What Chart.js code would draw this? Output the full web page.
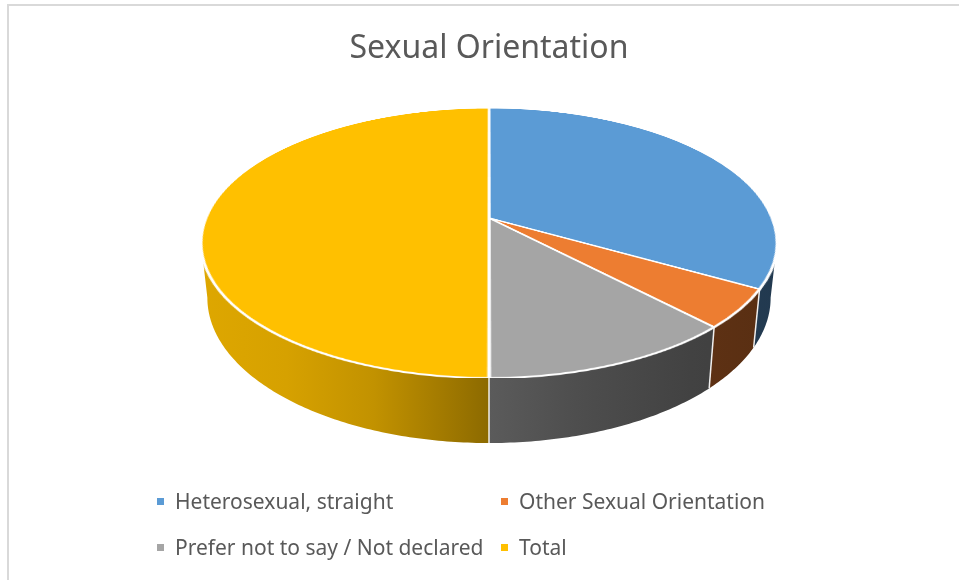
<!DOCTYPE html>
<html>
<head>
<meta charset="utf-8">
<title>Sexual Orientation</title>
<script src="https://cdn.jsdelivr.net/npm/chart.js@4.4.1/dist/chart.umd.min.js"></script>
<style>
  html, body { margin: 0; padding: 0; background: #fff; }
  #wrap { position: relative; width: 959px; height: 580px; overflow: hidden; }
  #frame { position: absolute; left: 7px; top: 4px; right: -10px; bottom: -10px;
           border-left: 2px solid #d9d9d9; border-top: 2px solid #d9d9d9; }
  #chart { position: absolute; left: 0; top: 0; }
  #legend { position: absolute; left: 157px; top: 478px; display: grid;
            grid-template-columns: 344px auto; grid-auto-rows: 46px;
            font: 21px 'Noto Sans', sans-serif; color: #595959; }
  #legend .item { display: flex; align-items: center; white-space: nowrap; }
  #legend .box { width: 7px; height: 7px; margin-right: 11px; flex: none; }
</style>
</head>
<body>
<div id="wrap">
  <div id="frame"></div>
  <canvas id="chart" width="959" height="580"></canvas>
  <div id="legend"></div>
</div>
<script>
const labels = ['Heterosexual, straight', 'Other Sexual Orientation', 'Prefer not to say / Not declared', 'Total'];
const counts = [143, 20, 52, 215];
const colors = ['#5B9BD5', '#ED7D31', '#A5A5A5', '#FFC000'];

// tilted disc, in screen pixels around the pie centre
const TILT = 0.185;         // far half shrinks, near half grows
const RX = 283;             // half width on the centre row
const RY = 130.4;
const DEPTH = 53;           // wall height at the centre row
const BOTTOM_SHRINK = 0.978;

// wall darkness across the width (u = -1 left .. 1 right)
const SHADE = [[-1, 0.87], [-0.7, 0.84], [-0.4, 0.76], [-0.15, 0.63], [0, 0.55],
               [0.3, 0.47], [0.7, 0.40], [1, 0.37]];

const shade = (hex, f) => {
  const n = parseInt(hex.slice(1), 16);
  const r = Math.round(((n >> 16) & 255) * f);
  const g = Math.round(((n >> 8) & 255) * f);
  const b = Math.round((n & 255) * f);
  return `rgb(${r},${g},${b})`;
};

const pie3d = {
  id: 'pie3d',
  beforeDatasetsDraw(chart) {
    const arcs = chart.getDatasetMeta(0).data;
    const { x: cx, outerRadius: R } = arcs[0];
    const cy = Math.round(arcs[0].y);
    const ctx = chart.ctx;

    const project = (t, drop = 0) => {
      const X = Math.cos(t), Y = Math.sin(t);
      const w = 1 - TILT * Y;
      const k = drop ? BOTTOM_SHRINK : 1;
      return [cx + k * RX * X / w, cy + (RY * Y + drop) / w];
    };

    // side walls of the near half
    const tMin = Math.asin(TILT), tMax = Math.PI - tMin;
    ctx.save();
    arcs.forEach((arc, i) => {
      const a0 = Math.max(arc.startAngle, tMin);
      const a1 = Math.min(arc.endAngle, tMax);
      if (a1 <= a0) return;
      const steps = Math.max(8, Math.ceil((a1 - a0) * 80));
      ctx.beginPath();
      for (let s = 0; s <= steps; s++) {
        const [x, y] = project(a0 + (a1 - a0) * s / steps);
        s ? ctx.lineTo(x, y) : ctx.moveTo(x, y);
      }
      for (let s = steps; s >= 0; s--) {
        const [x, y] = project(a0 + (a1 - a0) * s / steps, DEPTH);
        ctx.lineTo(x, y);
      }
      ctx.closePath();
      const grad = ctx.createLinearGradient(cx - RX * 1.02, 0, cx + RX * 1.02, 0);
      SHADE.forEach(([u, f]) => grad.addColorStop((u + 1) / 2, shade(colors[i], f)));
      ctx.fillStyle = grad;
      ctx.fill();
    });
    // white seams where slices meet on the wall
    ctx.strokeStyle = 'rgba(255,255,255,0.9)';
    ctx.lineWidth = 1.5;
    arcs.forEach(arc => {
      const t = arc.endAngle;
      if (t <= tMin || t >= tMax) return;
      const [x0, y0] = project(t);
      const [x1, y1] = project(t, DEPTH);
      ctx.beginPath();
      ctx.moveTo(x0, y0);
      ctx.lineTo(x1, y1);
      ctx.stroke();
    });
    ctx.restore();

    // flat pie drawn by the arc elements, then tilted row by row
    const size = Math.ceil(2 * R) + 6;
    const off = document.createElement('canvas');
    off.width = off.height = size;
    const octx = off.getContext('2d');
    octx.translate(size / 2 - cx, size / 2 - arcs[0].y);
    arcs.forEach(arc => arc.draw(octx));

    const rowY = d => d / (RY + TILT * d);
    const first = Math.floor(-RY / (1 + TILT)) - 1;
    const last = Math.ceil(RY / (1 - TILT)) + 1;
    for (let d = first; d < last; d++) {
      const Ya = Math.max(-1, rowY(d)), Yb = Math.min(1, rowY(d + 1));
      if (Yb <= Ya) continue;
      const s = RX / (R * (1 - TILT * (Ya + Yb) / 2));
      ctx.drawImage(off, 0, size / 2 + Ya * R, size, (Yb - Ya) * R,
                    cx - size / 2 * s, cy + d, size * s, 1);
    }
    return false;
  }
};

Chart.defaults.font.family = "'Noto Sans', sans-serif";

const chart = new Chart(document.getElementById('chart'), {
  type: 'pie',
  data: {
    labels: labels,
    datasets: [{
      data: counts,
      backgroundColor: colors,
      borderColor: '#ffffff',
      borderWidth: 3
    }]
  },
  options: {
    responsive: false,
    animation: false,
    radius: 300,
    layout: { padding: { left: 19, right: 0, top: 0, bottom: 212 } },
    plugins: {
      title: {
        display: true,
        text: 'Sexual Orientation',
        color: '#595959',
        font: { size: 32, weight: 'normal' },
        padding: { top: 30, bottom: 0 }
      },
      legend: { display: false },
      tooltip: { enabled: false }
    }
  },
  plugins: [pie3d]
});

// legend laid out in two columns under the pie
const legendEl = document.getElementById('legend');
chart.data.labels.forEach((label, i) => {
  const item = document.createElement('div');
  item.className = 'item';
  const box = document.createElement('span');
  box.className = 'box';
  box.style.background = chart.data.datasets[0].backgroundColor[i];
  item.append(box, document.createTextNode(label));
  legendEl.append(item);
});
</script>
</body>
</html>
